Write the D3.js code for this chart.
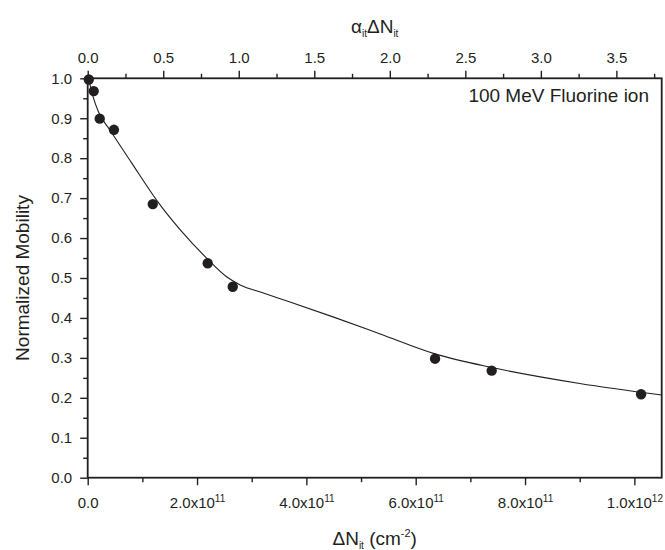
<!DOCTYPE html>
<html>
<head>
<meta charset="utf-8">
<script src="https://cdn.jsdelivr.net/npm/d3@7"></script>
<style>
  html, body { margin: 0; padding: 0; background: #fff; }
  svg text { font-family: "Liberation Sans", Arial, Helvetica, sans-serif; fill: #231f20; }
</style>
</head>
<body>
<svg id="chart" width="665" height="550"></svg>
<script>
// ---- data ----
const pointsX = [0.02e11, 0.11e11, 0.22e11, 0.48e11, 1.19e11, 2.195e11, 2.653e11, 6.354e11, 7.39e11, 10.123e11];
const pointsY = [0.997, 0.968, 0.899, 0.871, 0.685, 0.537, 0.478, 0.298, 0.268, 0.209];

const fitX = [0, 0.04e11, 0.10e11, 0.20e11, 0.41e11, 0.80e11, 1.26e11, 1.69e11, 2.18e11, 2.54e11, 2.79e11, 3.20e11, 3.70e11, 4.5e11, 5.35e11, 6.354e11, 7.39e11, 9.0e11, 10.5e11];
const fitY = [1.0, 0.985, 0.953, 0.915, 0.870, 0.789, 0.695, 0.621, 0.549, 0.503, 0.4825, 0.463, 0.440, 0.402, 0.360, 0.310, 0.276, 0.236, 0.207];

const bottomTicks = [0, 2e11, 4e11, 6e11, 8e11, 1e12];
const bottomTickBase = ["0.0", "2.0x10", "4.0x10", "6.0x10", "8.0x10", "1.0x10"];
const bottomTickExp = ["", "11", "11", "11", "11", "12"];
const bottomMinor = [1e11, 3e11, 5e11, 7e11, 9e11];

const topTicks = [0, 0.5, 1.0, 1.5, 2.0, 2.5, 3.0, 3.5];
const topTickLabels = ["0.0", "0.5", "1.0", "1.5", "2.0", "2.5", "3.0", "3.5"];
const topMinor = [0.25, 0.75, 1.25, 1.75, 2.25, 2.75, 3.25, 3.75];

const leftTicks = [0, 0.1, 0.2, 0.3, 0.4, 0.5, 0.6, 0.7, 0.8, 0.9, 1.0];
const leftTickLabels = ["0.0", "0.1", "0.2", "0.3", "0.4", "0.5", "0.6", "0.7", "0.8", "0.9", "1.0"];
const leftMinor = [0.05, 0.15, 0.25, 0.35, 0.45, 0.55, 0.65, 0.75, 0.85, 0.95];

const yTitle = "Normalized Mobility";
const legendText = "100 MeV Fluorine ion";

// ---- layout ----
const L = 87.7, R = 661.7, T = 78.3, B = 477.7;
const ink = "#231f20";

const svg = d3.select("#chart");
const x = d3.scaleLinear().domain([0, 1.05e12]).range([L, R]);
const xTop = d3.scaleLinear().domain([0, 3.8]).range([L, R]);
const y = d3.scaleLinear().domain([0, 1.0]).range([B, T]);

function styleAxis(g) {
  g.select(".domain").remove();
  g.selectAll(".tick line").attr("stroke", ink).attr("stroke-width", 1.4);
  g.selectAll(".tick text").style("font-size", "15px").attr("fill", ink);
}

// bottom axis major
const gB = svg.append("g").attr("transform", `translate(0,${B})`)
  .call(d3.axisBottom(x).tickValues(bottomTicks).tickSize(7.5).tickPadding(12).tickFormat(() => ""));
styleAxis(gB);
gB.selectAll(".tick text").each(function(d, i) {
  const t = d3.select(this);
  t.text(null);
  t.append("tspan").text(bottomTickBase[i]);
  if (bottomTickExp[i]) {
    t.append("tspan").attr("dy", "-0.55em").style("font-size", "10px").text(bottomTickExp[i]);
  }
});
const gBm = svg.append("g").attr("transform", `translate(0,${B})`)
  .call(d3.axisBottom(x).tickValues(bottomMinor).tickSize(4.5).tickFormat(() => ""));
styleAxis(gBm);

// top axis
const gT = svg.append("g").attr("transform", `translate(0,${T})`)
  .call(d3.axisTop(xTop).tickValues(topTicks).tickSize(7.5).tickPadding(8).tickFormat((d, i) => topTickLabels[i]));
styleAxis(gT);
const gTm = svg.append("g").attr("transform", `translate(0,${T})`)
  .call(d3.axisTop(xTop).tickValues(topMinor).tickSize(4.5).tickFormat(() => ""));
styleAxis(gTm);

// left axis
const gL = svg.append("g").attr("transform", `translate(${L},0)`)
  .call(d3.axisLeft(y).tickValues(leftTicks).tickSize(7.5).tickPadding(8).tickFormat((d, i) => leftTickLabels[i]));
styleAxis(gL);
const gLm = svg.append("g").attr("transform", `translate(${L},0)`)
  .call(d3.axisLeft(y).tickValues(leftMinor).tickSize(4.5).tickFormat(() => ""));
styleAxis(gLm);

// frame
svg.append("rect").attr("x", L).attr("y", T).attr("width", R - L).attr("height", B - T)
  .attr("fill", "none").attr("stroke", ink).attr("stroke-width", 1.8);

// fit line
const line = d3.line().x(d => x(d[0])).y(d => y(d[1])).curve(d3.curveMonotoneX);
svg.append("path").datum(fitX.map((v, i) => [v, fitY[i]]))
  .attr("d", line).attr("fill", "none").attr("stroke", ink).attr("stroke-width", 1.1);

// points
svg.append("g").selectAll("circle").data(pointsX.map((v, i) => [v, pointsY[i]]))
  .join("circle").attr("cx", d => x(d[0])).attr("cy", d => y(d[1])).attr("r", 5.2).attr("fill", ink);

// titles
svg.append("text").attr("transform", `translate(29,${(T + B) / 2}) rotate(-90)`)
  .attr("text-anchor", "middle").style("font-size", "19px").text(yTitle);

const xt = svg.append("text").attr("x", (L + R) / 2).attr("y", 545).attr("text-anchor", "middle").style("font-size", "19px");
xt.append("tspan").text("\u0394N");
xt.append("tspan").attr("dy", "4").style("font-size", "10px").text("it");
xt.append("tspan").attr("dy", "-4").text(" (cm");
xt.append("tspan").attr("dy", "-8").style("font-size", "11px").text("-2");
xt.append("tspan").attr("dy", "8").text(")");

const tt = svg.append("text").attr("x", (L + R) / 2).attr("y", 33).attr("text-anchor", "middle").style("font-size", "19px");
tt.append("tspan").text("\u03B1");
tt.append("tspan").attr("dy", "4").style("font-size", "10px").text("it");
tt.append("tspan").attr("dy", "-4").text("\u0394N");
tt.append("tspan").attr("dy", "4").style("font-size", "10px").text("it");

svg.append("text").attr("x", 649).attr("y", 102).attr("text-anchor", "end").style("font-size", "19px").text(legendText);
</script>
</body>
</html>
